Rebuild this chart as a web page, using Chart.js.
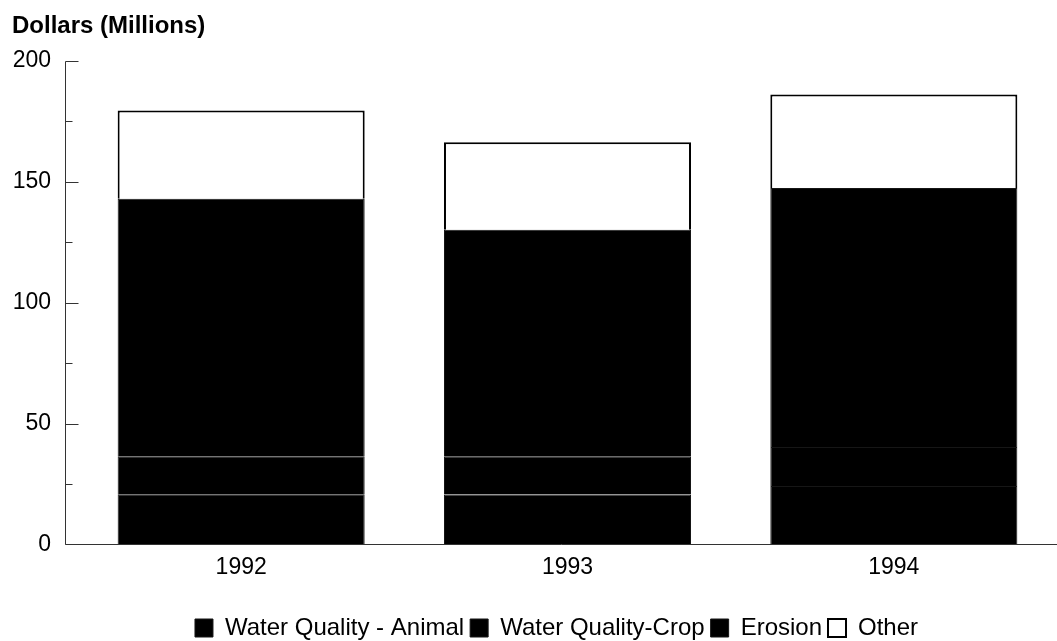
<!DOCTYPE html>
<html lang="en">
<head>
    <meta charset="UTF-8">
    <script src="https://cdn.jsdelivr.net/npm/chart.js@4.4.1/dist/chart.umd.min.js"></script>
    <title>Dollars (Millions)</title>
    <style>
        html, body { margin: 0; padding: 0; background: #fff; }
        #wrap { width: 1057px; height: 641px; }
    </style>
</head>
<body>
    <div id="wrap"><canvas id="myChart"></canvas></div>
    <script>
        // values
        var years = ['1992', '1993', '1994'];
        var animal = [20.7, 20.6, 24.2];
        var crop = [15.8, 15.6, 16.1];
        var erosion = [106.5, 93.9, 107.1];
        var other = [36.4, 36.2, 38.7];
        var majorTicks = [0, 50, 100, 150, 200];
        var minorTicks = [25, 75, 125, 175];

        // y axis line with ticks pointing right, and the base line
        var axisFrame = {
            id: 'axisFrame',
            afterLayout: function (chart) {
                // legend in the original sits a bit right of centre
                chart.legend.left += 44;
            },
            afterDatasetsDraw: function (chart) {
                var ctx = chart.ctx, area = chart.chartArea, y = chart.scales.y;
                var x0 = Math.round(area.left - 13) + 0.5;
                var yb = Math.round(y.getPixelForValue(0)) + 0.5;
                ctx.save();
                ctx.strokeStyle = '#333';
                ctx.lineWidth = 1;
                ctx.beginPath();
                ctx.moveTo(x0, Math.round(y.getPixelForValue(200)) + 0.5);
                ctx.lineTo(x0, yb);
                ctx.lineTo(chart.width, yb);
                majorTicks.forEach(function (v) {
                    var py = Math.round(y.getPixelForValue(v)) + 0.5;
                    ctx.moveTo(x0, py); ctx.lineTo(x0 + 13, py);
                });
                minorTicks.forEach(function (v) {
                    var py = Math.round(y.getPixelForValue(v)) + 0.5;
                    ctx.moveTo(x0, py); ctx.lineTo(x0 + 7, py);
                });
                ctx.stroke();
                ctx.restore();
            }
        };

        var font = "'Liberation Sans', Arial, sans-serif";
        var ctx = document.getElementById('myChart').getContext('2d');
        var myChart = new Chart(ctx, {
            type: 'bar',
            data: {
                labels: years,
                datasets: [
                    { label: 'Water Quality - Animal', data: animal, backgroundColor: '#000', borderColor: '#161616', borderWidth: 1 },
                    { label: 'Water Quality-Crop', data: crop, backgroundColor: '#000', borderColor: '#161616', borderWidth: 1 },
                    { label: 'Erosion', data: erosion, backgroundColor: '#000', borderColor: '#161616', borderWidth: 1 },
                    { label: 'Other', data: other, backgroundColor: '#fff', borderColor: '#000', borderWidth: 2 }
                ]
            },
            options: {
                responsive: true,
                maintainAspectRatio: false,
                animation: false,
                datasets: { bar: { categoryPercentage: 1, barPercentage: 0.757 } },
                layout: { padding: { left: 12, right: 0, top: 0, bottom: -9 } },
                scales: {
                    x: {
                        stacked: true,
                        grid: { display: false, drawTicks: false },
                        border: { display: false },
                        ticks: { color: '#000', padding: 9, font: { family: font, size: 23 } },
                        afterFit: function (scale) { scale.height += 20; }
                    },
                    y: {
                        stacked: true,
                        min: 0,
                        max: 200,
                        grid: { display: false, drawTicks: false },
                        border: { display: false },
                        ticks: { stepSize: 50, color: '#000', padding: 27, font: { family: font, size: 23 } },
                        afterFit: function (scale) { scale.width = 66; }
                    }
                },
                plugins: {
                    tooltip: { enabled: false },
                    title: {
                        display: true,
                        text: 'Dollars (Millions)',
                        align: 'start',
                        color: '#000',
                        padding: { top: 12, bottom: 20 },
                        font: { family: font, size: 24, weight: 'bold' }
                    },
                    legend: {
                        position: 'bottom',
                        labels: {
                            color: '#000',
                            boxWidth: 18,
                            boxHeight: 18,
                            padding: 6,
                            font: { family: font, size: 24 }
                        }
                    }
                }
            },
            plugins: [axisFrame]
        });
    </script>
</body>
</html>
